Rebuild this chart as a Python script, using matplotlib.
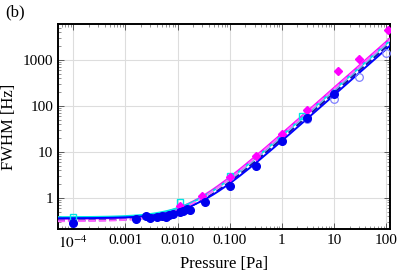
import numpy as np
import matplotlib
matplotlib.use("Agg")
import matplotlib.pyplot as plt
from matplotlib.ticker import FixedLocator, FixedFormatter, LogLocator, NullFormatter

plt.rcParams['font.family'] = ['Liberation Serif', 'DejaVu Serif']
plt.rcParams['mathtext.fontset'] = 'stix'

# measured points
p_blue = [1e-4, 0.0016, 0.0025, 0.003, 0.004, 0.005, 0.006, 0.007, 0.008,
          0.011, 0.013, 0.015, 0.017, 0.034, 0.1, 0.32, 1.0, 3.0, 10.0]
w_blue = [0.29, 0.35, 0.41, 0.37, 0.38, 0.40, 0.39, 0.42, 0.44,
          0.50, 0.52, 0.56, 0.55, 0.83, 1.8, 5.0, 17.5, 55, 180]

p_open = [3.0, 10.0, 30.0, 100.0]
w_open = [52, 140, 420, 1400]

p_mag = [0.011, 0.03, 0.1, 0.32, 1.0, 3.0, 12.0, 30.0, 107.0]
w_mag = [0.65, 1.1, 2.9, 8.0, 25, 80, 575, 1030, 4500]

p_cyan = [1e-4, 0.011, 0.1, 2.5]
w_cyan = [0.38, 0.83, 3.0, 60]

# fit lines: offset + slope * P
fit_names = ["magenta", "cyan", "blue_dash", "blue", "magenta_dash"]
fit_offset = [0.35, 0.38, 0.32, 0.36, 0.31]
fit_slope = [24.5, 22, 19, 17, 23]
fit_color = ["#ff00ff", "#00e5e5", "#1a1aa0", "#0000ff", "#ff66ff"]
fit_style = ["-", "-", "--", "-", "--"]

x_ticks = [1e-4, 1e-3, 1e-2, 1e-1, 1, 10, 100]
x_labels = [r"$10^{-4}$", "0.001", "0.010", "0.100", "1", "10", "100"]
y_ticks = [1, 10, 100, 1000]
y_labels = ["1", "10", "100", "1000"]

fig = plt.figure(figsize=(4.15, 2.74), dpi=100)
ax = fig.add_axes([0.140, 0.164, 0.800, 0.748])

P = np.logspace(np.log10(5e-5), np.log10(130), 300)
for off, k, c, ls in zip(fit_offset, fit_slope, fit_color, fit_style):
    ax.plot(P, off + k * P, color=c, ls=ls, lw=1.4, zorder=3)

ax.plot(p_cyan, w_cyan, 's', ms=5, mfc='none', mec='#00e5e5', mew=1, zorder=4)
ax.plot(p_open, w_open, 'o', ms=5.5, mfc='none', mec='#8080ff', mew=0.9, zorder=4)
ax.plot(p_mag, w_mag, 'D', ms=4, color='#ff00ff', zorder=4)
ax.plot(p_blue, w_blue, 'o', ms=5.5, color='#0000ee', zorder=5)

ax.set_xscale('log')
ax.set_yscale('log')
ax.set_xlim(5.1e-5, 120)
ax.set_ylim(0.21, 6000)

ax.xaxis.set_major_locator(FixedLocator(x_ticks))
ax.xaxis.set_major_formatter(FixedFormatter(x_labels))
ax.yaxis.set_major_locator(FixedLocator(y_ticks))
ax.yaxis.set_major_formatter(FixedFormatter(y_labels))
ax.xaxis.set_minor_locator(LogLocator(subs=np.arange(2, 10), numticks=20))
ax.yaxis.set_minor_locator(LogLocator(subs=np.arange(2, 10), numticks=20))
ax.xaxis.set_minor_formatter(NullFormatter())
ax.yaxis.set_minor_formatter(NullFormatter())

ax.tick_params(which='both', direction='in', top=True, right=True, labelsize=11)
ax.tick_params(which='major', length=4, width=0.6, color='#444444')
ax.tick_params(which='minor', length=2, width=0.5, color='#666666')
ax.grid(True, which='major', color='#dddddd', lw=0.8)
ax.set_axisbelow(True)
for s in ax.spines.values():
    s.set_linewidth(1.4)

ax.set_xlabel("Pressure [Pa]", fontsize=12, labelpad=4)
ax.set_ylabel("FWHM [Hz]", fontsize=12, labelpad=4)
fig.text(0.012, 0.955, "(b)", fontsize=12, va='center')

fig.savefig("out.png", dpi=100)
